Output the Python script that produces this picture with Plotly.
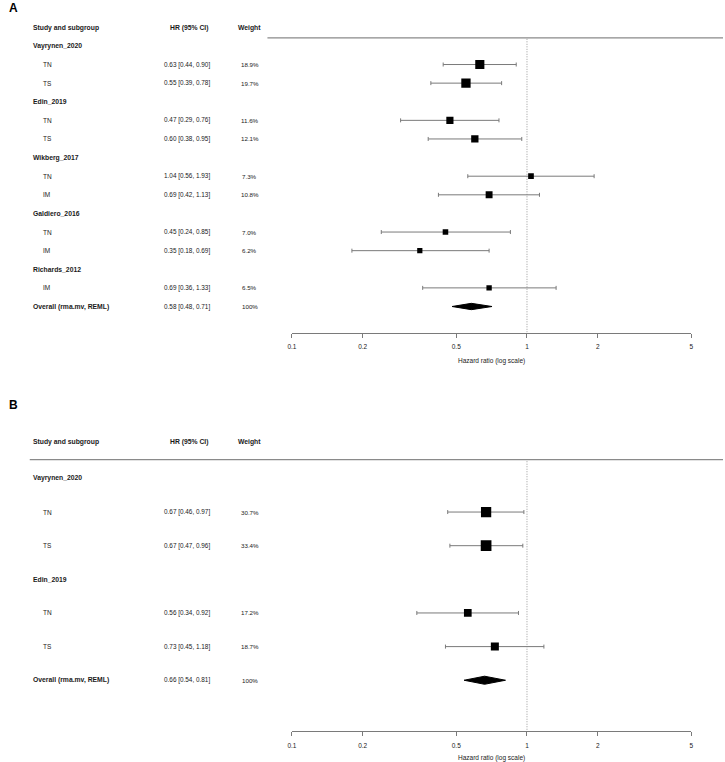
import math
import plotly.graph_objects as go

# ---------------- data ----------------
A_labels = ["Vayrynen_2020", "TN", "TS", "Edin_2019", "TN", "TS", "Wikberg_2017", "TN", "IM",
            "Galdiero_2016", "TN", "IM", "Richards_2012", "IM", "Overall (rma.mv, REML)"]
A_kind = ["study", "sub", "sub", "study", "sub", "sub", "study", "sub", "sub",
          "study", "sub", "sub", "study", "sub", "overall"]
A_hr = [None, 0.63, 0.55, None, 0.47, 0.60, None, 1.04, 0.69, None, 0.45, 0.35, None, 0.69, 0.58]
A_lo = [None, 0.44, 0.39, None, 0.29, 0.38, None, 0.56, 0.42, None, 0.24, 0.18, None, 0.36, 0.48]
A_hi = [None, 0.90, 0.78, None, 0.76, 0.95, None, 1.93, 1.13, None, 0.85, 0.69, None, 1.33, 0.71]
A_w = [None, 18.9, 19.7, None, 11.6, 12.1, None, 7.3, 10.8, None, 7.0, 6.2, None, 6.5, 100]

B_labels = ["Vayrynen_2020", "TN", "TS", "Edin_2019", "TN", "TS", "Overall (rma.mv, REML)"]
B_kind = ["study", "sub", "sub", "study", "sub", "sub", "overall"]
B_hr = [None, 0.67, 0.67, None, 0.56, 0.73, 0.66]
B_lo = [None, 0.46, 0.47, None, 0.34, 0.45, 0.54]
B_hi = [None, 0.97, 0.96, None, 0.92, 1.18, 0.81]
B_w = [None, 30.7, 33.4, None, 17.2, 18.7, 100]

tick_vals = [0.1, 0.2, 0.5, 1, 2, 5]
tick_text = ["0.1", "0.2", "0.5", "1", "2", "5"]
x_title = "Hazard ratio (log scale)"
headers = ["Study and subgroup", "HR (95% CI)", "Weight"]

# ---------------- layout helpers ----------------
W, H = 725, 762
FONT = "Liberation Sans, Arial, sans-serif"
TXT = "#1a1a1a"
GRAY = "#7a7a7a"

def px(x):
    return x / W

fig = go.Figure()

panels = [
    dict(labels=A_labels, kind=A_kind, hr=A_hr, lo=A_lo, hi=A_hi, w=A_w,
         xa="x", ya="y", xaxis="xaxis", yaxis="yaxis",
         yrange=[15.4, -1.5], dom=[1 - 333 / H, 1 - 18 / H],
         header_y=-0.97, line_y=-0.43, line_x0=265, ksz=2.1, dh=0.17,
         letter="A", letter_y=8),
    dict(labels=B_labels, kind=B_kind, hr=B_hr, lo=B_lo, hi=B_hi, w=B_w,
         xa="x2", ya="y2", xaxis="xaxis2", yaxis="yaxis2",
         yrange=[7.51, -1.5], dom=[1 - 732 / H, 1 - 428.5 / H],
         header_y=-1.07, line_y=-0.56, line_x0=25, ksz=1.85, dh=0.12,
         letter="B", letter_y=406),
]

for p in panels:
    n = len(p["labels"])
    xs, ys, em, ep, sz = [], [], [], [], []
    for i in range(n):
        if p["kind"][i] == "sub":
            xs.append(p["hr"][i]); ys.append(i)
            ep.append(p["hi"][i] - p["hr"][i]); em.append(p["hr"][i] - p["lo"][i])
            sz.append(p["ksz"] * math.sqrt(p["w"][i]))
    # reference line at HR = 1
    top = p["line_y"] + 0.05
    fig.add_trace(go.Scatter(
        x=[1, 1], y=[top, p["yrange"][0]], mode="lines", xaxis=p["xa"], yaxis=p["ya"],
        line=dict(color="#9a9a9a", width=1, dash="1px,1.5px"),
        showlegend=False, hoverinfo="skip"))
    # CI whiskers
    fig.add_trace(go.Scatter(
        x=xs, y=ys, mode="markers", xaxis=p["xa"], yaxis=p["ya"],
        marker=dict(size=1, color="rgba(0,0,0,0)"),
        error_x=dict(type="data", symmetric=False, array=ep, arrayminus=em,
                     color=GRAY, thickness=1, width=2),
        showlegend=False, hoverinfo="skip"))
    # squares on top
    fig.add_trace(go.Scatter(
        x=xs, y=ys, mode="markers", xaxis=p["xa"], yaxis=p["ya"],
        marker=dict(symbol="square", color="black", size=sz, opacity=1,
                    line=dict(width=0, color="black")),
        showlegend=False, hoverinfo="skip"))
    # overall diamond
    for i in range(n):
        if p["kind"][i] == "overall":
            e, l, h = p["hr"][i], p["lo"][i], p["hi"][i]
            d = p["dh"]
            fig.add_trace(go.Scatter(
                x=[l, e, h, e, l], y=[i, i - d, i, i + d, i], mode="lines",
                fill="toself", fillcolor="black", line=dict(color="black", width=1),
                xaxis=p["xa"], yaxis=p["ya"], showlegend=False, hoverinfo="skip"))

    # axes
    fig.update_layout(**{
        p["xaxis"]: dict(type="log", range=[-1, math.log10(5)],
                         domain=[px(289.7), px(693)], anchor=p["ya"],
                         showline=True, linecolor=GRAY, linewidth=1,
                         ticks="outside", ticklen=4, tickcolor=GRAY, tickwidth=1,
                         ticklabelstandoff=4,
                         tickvals=tick_vals, ticktext=tick_text,
                         tickfont=dict(family=FONT, size=6.5, color=TXT),
                         showgrid=False, zeroline=False,
                         title=dict(text=x_title, font=dict(family=FONT, size=6.5, color=TXT),
                                    standoff=9)),
        p["yaxis"]: dict(range=p["yrange"], domain=p["dom"], anchor=p["xa"],
                         visible=False, showgrid=False, zeroline=False),
    })

    yref = p["ya"]
    fig.add_annotation(x=px(26), y=p["header_y"], xref="paper", yref=yref, text="<b>%s</b>" % headers[0],
                       showarrow=False, xanchor="left", font=dict(family=FONT, size=6.8, color=TXT))
    fig.add_annotation(x=px(186), y=p["header_y"], xref="paper", yref=yref, text="<b>%s</b>" % headers[1],
                       showarrow=False, xanchor="center", font=dict(family=FONT, size=6.8, color=TXT))
    fig.add_annotation(x=px(247), y=p["header_y"], xref="paper", yref=yref, text="<b>%s</b>" % headers[2],
                       showarrow=False, xanchor="center", font=dict(family=FONT, size=6.8, color=TXT))
    fig.add_shape(type="line", xref="paper", yref=yref, x0=px(p["line_x0"]), x1=1,
                  y0=p["line_y"], y1=p["line_y"], line=dict(color="#8a8a8a", width=1.2))

    for i in range(n):
        k = p["kind"][i]
        lab = p["labels"][i]
        if k in ("study", "overall"):
            fig.add_annotation(x=px(26), y=i, xref="paper", yref=yref, text="<b>%s</b>" % lab,
                               showarrow=False, xanchor="left", font=dict(family=FONT, size=6.8, color=TXT))
        else:
            fig.add_annotation(x=px(36), y=i, xref="paper", yref=yref, text=lab,
                               showarrow=False, xanchor="left", font=dict(family=FONT, size=6.5, color=TXT))
        if p["hr"][i] is not None:
            s = "%.2f [%.2f, %.2f]" % (p["hr"][i], p["lo"][i], p["hi"][i])
            fig.add_annotation(x=px(184), y=i, xref="paper", yref=yref, text=s,
                               showarrow=False, xanchor="center", font=dict(family=FONT, size=6.4, color=TXT))
            wv = p["w"][i]
            ws = "100%" if k == "overall" else "%.1f%%" % wv
            fig.add_annotation(x=px(247), y=i, xref="paper", yref=yref, text=ws,
                               showarrow=False, xanchor="center", font=dict(family=FONT, size=6.2, color=TXT))

    fig.add_annotation(x=px(2), y=1 - p["letter_y"] / H, xref="paper", yref="paper",
                       text="<b>%s</b>" % p["letter"], showarrow=False, xanchor="left", yanchor="middle",
                       font=dict(family=FONT, size=12, color="black"))

fig.update_layout(width=W, height=H, margin=dict(l=0, r=0, t=0, b=0),
                  paper_bgcolor="white", plot_bgcolor="white", showlegend=False)

fig.write_html("out.html")
